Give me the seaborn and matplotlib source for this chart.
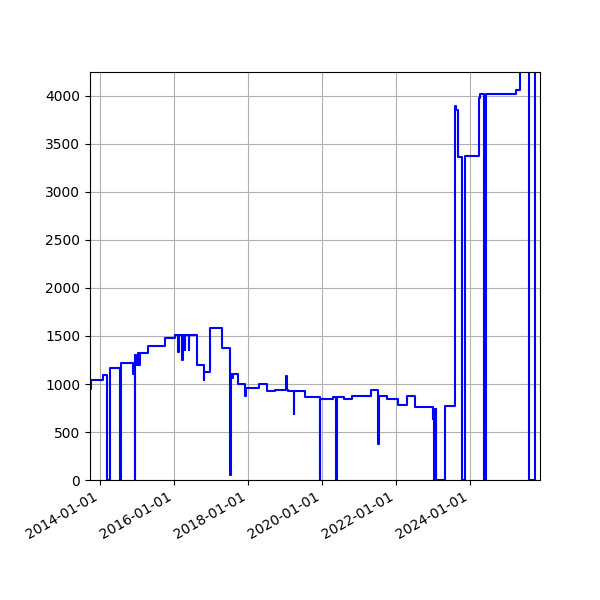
import matplotlib
matplotlib.use("Agg")
import matplotlib.pyplot as plt
import matplotlib.dates as mdates
import seaborn as sns
import pandas as pd

series = [
 ("2013-09-25",950),("2013-10-01",1040),("2014-02-01",1090),("2014-03-10",0),("2014-04-10",1170),
 ("2014-07-15",0),("2014-07-25",1220),("2014-11-20",1100),("2014-12-10",0),("2014-12-15",1300),
 ("2014-12-25",1200),("2015-01-05",1320),("2015-01-15",1200),("2015-01-25",1320),("2015-04-20",1400),
 ("2015-10-05",1480),("2016-01-10",1510),("2016-02-10",1330),("2016-02-15",1510),("2016-03-20",1250),
 ("2016-03-25",1510),("2016-04-15",1350),("2016-04-20",1510),("2016-05-25",1350),("2016-05-30",1510),
 ("2016-08-15",1200),("2016-10-20",1040),("2016-10-25",1130),("2016-12-15",1580),("2017-04-20",1370),
 ("2017-07-01",1300),("2017-07-05",50),("2017-07-10",1100),("2017-07-25",1060),("2017-08-05",1100),
 ("2017-09-25",1000),("2017-12-01",870),("2017-12-05",960),("2018-04-20",1000),("2018-07-05",930),
 ("2018-09-25",940),("2019-01-10",1080),("2019-01-15",940),("2019-02-01",930),("2019-03-28",690),
 ("2019-04-01",930),("2019-07-15",860),("2019-12-10",0),("2019-12-15",840),("2020-04-20",860),
 ("2020-05-20",0),("2020-05-25",860),("2020-08-05",840),("2020-10-25",870),("2021-04-25",940),
 ("2021-07-05",370),("2021-07-10",880),("2021-10-05",840),("2022-01-20",780),("2022-04-20",870),
 ("2022-07-05",760),("2022-12-28",640),("2023-01-02",740),("2023-01-10",0),("2023-01-28",740),
 ("2023-02-02",0),("2023-04-25",770),("2023-08-05",3900),("2023-08-10",3850),("2023-09-05",3360),
 ("2023-10-12",0),("2023-11-10",3380),("2024-03-28",3980),("2024-04-05",4020),("2024-05-18",0),
 ("2024-06-01",4020),("2025-03-28",4060),("2025-05-08",4300),("2025-08-05",0),("2025-10-05",4300),
 ("2025-11-25",4300),
]
dates = [d for d, _ in series]
values = [v for _, v in series]

df = pd.DataFrame({"date": pd.to_datetime(dates), "value": values})

fig = plt.figure(figsize=(6, 6), dpi=100)
ax = fig.add_axes([0.15, 0.2, 0.75, 0.68])
sns.lineplot(data=df, x="date", y="value", ax=ax, color="blue", drawstyle="steps-post", linewidth=1.5)
ax.set_xlim(pd.Timestamp("2013-09-22"), pd.Timestamp("2025-11-20"))
ax.set_ylim(0, 4250)
ax.xaxis.set_major_locator(mdates.YearLocator(2))
ax.xaxis.set_major_formatter(mdates.DateFormatter("%Y-%m-%d"))
ax.grid(True)
ax.set_xlabel("")
ax.set_ylabel("")
for lbl in ax.get_xticklabels():
    lbl.set_rotation(30)
    lbl.set_ha("right")
fig.savefig("out.png")
